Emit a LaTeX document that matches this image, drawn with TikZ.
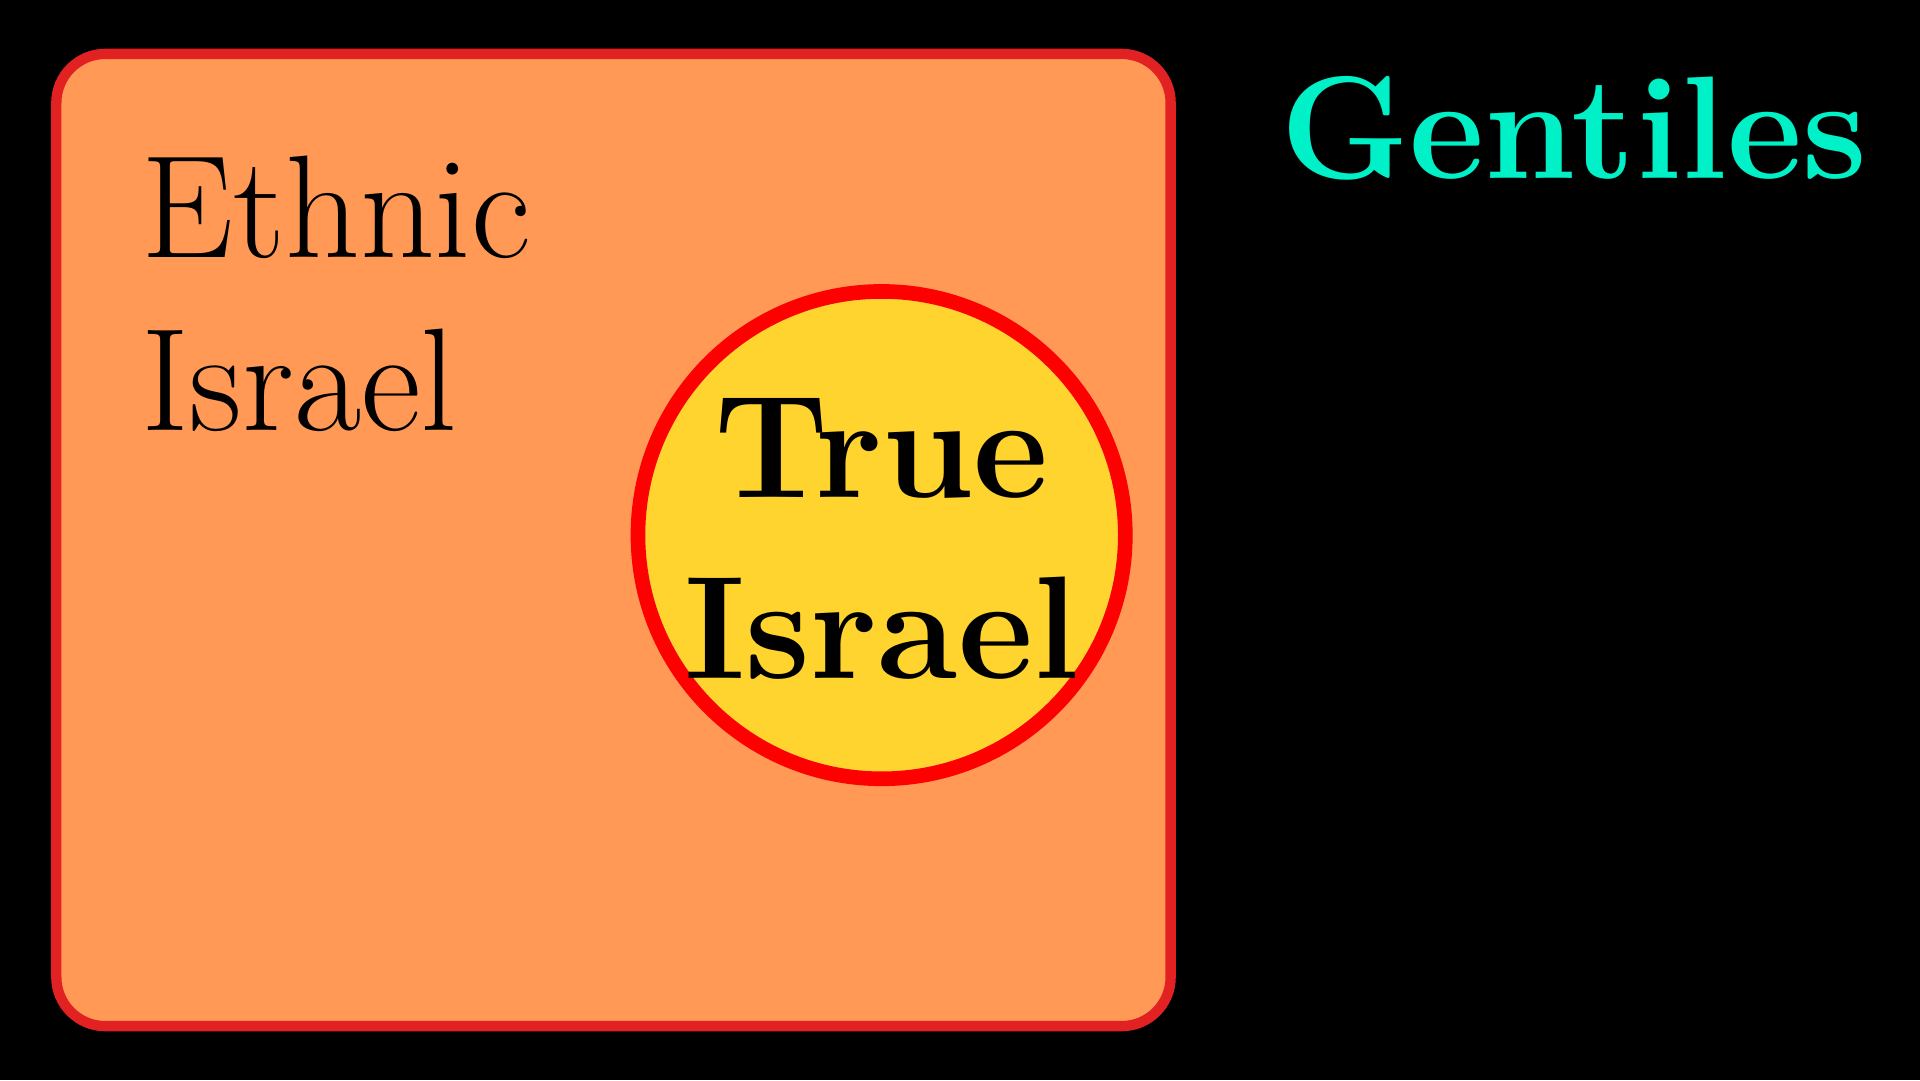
\documentclass[tikz,border=0pt]{standalone}
\usepackage{tikz}
\usetikzlibrary{positioning}
\definecolor{ethnicfill}{HTML}{FF9955}
\definecolor{ethnicline}{HTML}{E22222}
\definecolor{truefill}{HTML}{FFD42F}
\definecolor{trueline}{HTML}{FF0000}
\definecolor{gentcol}{HTML}{00F0C8}
\tikzset{
  bigtext/.style={font=\fontsize{34}{40}\selectfont, align=left, inner sep=0pt},
  boldtext/.style={font=\fontsize{34}{42}\selectfont\bfseries, align=center, inner sep=0pt},
}
\begin{document}
\begin{tikzpicture}[line join=round]
\fill[black] (0,0) rectangle (15.68,8.82);
\useasboundingbox (0,0) rectangle (15.68,8.82);
\coordinate (SW) at (0.46,0.44);
\coordinate (NE) at (9.56,8.38);
\coordinate (C)  at (7.20,4.45);
\draw[ethnicline, fill=ethnicfill, line width=2.4pt, rounded corners=0.4cm] (SW) rectangle (NE);
\draw[trueline, fill=truefill, line width=3.4pt] (C) circle (1.99);
\node[bigtext, anchor=north west] (ethnic) at (1.15,7.55) {Ethnic\\Israel};
\node[boldtext] (true) at (7.20,4.42) {True\\Israel};
\node[boldtext, gentcol, anchor=north west] (gentiles) at (10.45,8.2) {Gentiles};
\end{tikzpicture}
\end{document}
